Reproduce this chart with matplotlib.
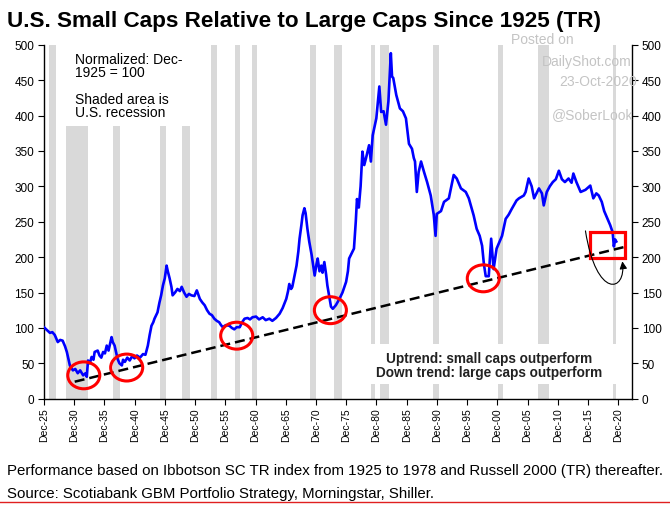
import matplotlib
matplotlib.use("Agg")
import matplotlib.pyplot as plt
from matplotlib.patches import Ellipse, Rectangle, FancyArrowPatch
from matplotlib.path import Path
from matplotlib.lines import Line2D

plt.rcParams['font.family'] = ['Liberation Sans', 'DejaVu Sans']

# small caps / large caps ratio (Dec-1925 = 100)
years = [
    1925.9, 1926.4, 1926.9, 1927.3, 1927.7, 1928.2, 1928.6, 1929.0, 1929.4, 1929.7,
    1930.2, 1930.7, 1931.1, 1931.5, 1931.9, 1932.4, 1932.8, 1933.0, 1933.2, 1933.5,
    1933.8, 1934.1, 1934.3, 1934.8, 1935.1, 1935.4, 1935.7, 1936.0, 1936.3, 1936.6,
    1937.1, 1937.3, 1937.6, 1938.1, 1938.4, 1938.8, 1939.0, 1939.3, 1939.7, 1940.1,
    1940.5, 1940.9, 1941.3, 1941.8, 1942.3, 1942.7, 1943.1, 1943.4, 1943.7, 1944.0,
    1944.2, 1944.7, 1945.0, 1945.3, 1945.6, 1945.9, 1946.2, 1946.4, 1946.7, 1947.0,
    1947.2, 1947.6, 1948.0, 1948.4, 1948.7, 1949.1, 1949.5, 1949.9, 1950.3, 1950.8,
    1951.2, 1951.5, 1951.7, 1952.1, 1952.5, 1952.9, 1953.3, 1953.7, 1954.1, 1954.5,
    1954.9, 1955.2, 1955.5, 1956.0, 1956.6, 1957.0, 1957.4, 1957.8, 1958.3, 1958.7,
    1959.1, 1959.6, 1960.0, 1960.4, 1961.0, 1961.5, 1962.1, 1962.6, 1963.2, 1963.7,
    1964.3, 1964.9, 1965.4, 1966.0, 1966.3, 1966.5, 1966.8, 1967.0, 1967.4, 1967.7,
    1968.0, 1968.2, 1968.5, 1968.7, 1969.0, 1969.2, 1969.5, 1969.8, 1970.2, 1970.5,
    1970.7, 1971.0, 1971.2, 1971.5, 1971.8, 1972.0, 1972.3, 1972.6, 1972.8, 1973.1,
    1973.4, 1973.7, 1974.2, 1974.8, 1975.3, 1975.9, 1976.2, 1976.4, 1976.8, 1977.2,
    1977.5, 1977.7, 1978.0, 1978.3, 1978.6, 1978.9, 1979.2, 1979.7, 1980.0, 1980.3,
    1980.9, 1981.4, 1981.7, 1982.1, 1982.5, 1982.9, 1983.3, 1983.5, 1983.7, 1984.2,
    1984.8, 1985.3, 1985.8, 1986.3, 1986.8, 1987.1, 1987.3, 1987.6, 1987.9, 1988.3,
    1988.8, 1989.3, 1989.9, 1990.4, 1990.7, 1990.9, 1991.6, 1992.1, 1992.9, 1993.7,
    1994.2, 1994.9, 1995.7, 1996.2, 1997.0, 1997.5, 1998.0, 1998.4, 1998.7, 1999.0,
    1999.5, 1999.9, 2000.3, 2000.8, 2001.7, 2002.3, 2002.8, 2003.3, 2004.1, 2004.5,
    2005.3, 2005.6, 2006.1, 2006.6, 2007.0, 2007.8, 2008.3, 2008.6, 2009.1, 2009.6,
    2010.1, 2010.6, 2011.1, 2011.6, 2012.1, 2012.7, 2013.2, 2013.5, 2014.0, 2014.7,
    2015.5, 2016.3, 2016.8, 2017.3, 2017.7, 2018.2, 2018.6, 2018.9, 2019.6, 2020.0,
    2020.2, 2020.4, 2020.6,
]
ratio = [
    101, 97, 93, 94, 90, 80, 83, 82, 74, 66,
    47, 40, 42, 36, 40, 33, 36, 31, 54, 50,
    59, 55, 66, 68, 61, 58, 66, 64, 75, 68,
    87, 80, 75, 56, 50, 47, 55, 52, 58, 54,
    60, 57, 61, 58, 63, 62, 75, 90, 103, 108,
    113, 122, 135, 146, 160, 170, 188, 180, 170, 158,
    146, 150, 155, 152, 158, 150, 144, 148, 146, 145,
    153, 146, 141, 136, 132, 125, 120, 118, 113, 110,
    108, 104, 101, 104, 103, 100, 98, 101, 101, 108,
    113, 114, 112, 115, 116, 112, 115, 111, 113, 110,
    114, 120, 128, 141, 152, 162, 155, 158, 175, 188,
    208, 226, 245, 259, 269, 262, 240, 222, 203, 185,
    174, 190, 198, 180, 188, 178, 193, 175, 160, 145,
    130, 127, 132, 141, 150, 165, 180, 198, 205, 212,
    250, 282, 270, 300, 349, 330, 340, 358, 335, 372,
    396, 441, 405, 406, 387, 420, 488, 455, 453, 429,
    410, 406, 396, 360, 353, 340, 335, 292, 320, 335,
    320, 306, 287, 260, 230, 261, 265, 278, 283, 316,
    311, 297, 292, 283, 259, 240, 230, 216, 190, 173,
    173, 226, 183, 212, 230, 254, 260, 268, 280, 283,
    287, 292, 311, 300, 283, 297, 290, 273, 292, 300,
    306, 310, 322, 310, 306, 311, 305, 318, 306, 292,
    295, 301, 283, 290, 287, 278, 265, 259, 245, 235,
    215, 225, 222,
]

# US recessions (shaded)
rec_start = [1926.75, 1929.6, 1937.35, 1945.15, 1948.75, 1953.5, 1957.6, 1960.25,
             1969.95, 1973.85, 1979.95, 1981.45, 1990.35, 2001.05, 2007.7, 2020.0]
rec_end = [1927.9, 1933.25, 1938.5, 1946.1, 1950.1, 1954.6, 1958.4, 1961.2,
           1970.95, 1975.2, 1980.7, 1983.0, 1991.3, 2001.85, 2009.5, 2020.6]

# long-term uptrend and the lows it touches
trend_x = [1931.0, 2021.8]
trend_y = [24, 214]
low_x = [1932.5, 1939.6, 1957.8, 1973.3, 1998.6]
low_y = [33, 44, 89, 125, 170]

tick_years = list(range(1925, 2021, 5))
tick_labels = ['Dec-%02d' % (y % 100) for y in tick_years]

fig = plt.figure(figsize=(6.7, 5.06), dpi=100)
ax = fig.add_axes([44 / 670, 106.3 / 506, 588 / 670, 354 / 506])

for s, e in zip(rec_start, rec_end):
    ax.axvspan(s, e, color='#d9d9d9', lw=0, zorder=1)

# white boxes behind the notes hide the shading there
ax.add_patch(Rectangle((1928.5, 385), 24.2, 120, color='white', lw=0, zorder=2))
ax.add_patch(Rectangle((1976.3, 21), 45.8, 56, color='white', lw=0, zorder=2))

ax.plot(years, ratio, color='#0000ff', lw=1.9, zorder=4)
ax.plot(trend_x, trend_y, color='black', lw=1.8, ls=(0, (4, 2)), zorder=5)

for cx, cy in zip(low_x, low_y):
    ax.add_patch(Ellipse((cx, cy), 5.3, 38, fill=False, ec='#ff0000', lw=2.2, zorder=6))

ax.add_patch(Rectangle((2016.3, 199), 5.7, 37, fill=False, ec='#ff0000', lw=2.3, zorder=6))
curve = Path([(2015.5, 237), (2017.3, 140), (2022.3, 150), (2021.6, 194)],
             [Path.MOVETO, Path.CURVE4, Path.CURVE4, Path.CURVE4])
ax.add_patch(FancyArrowPatch(path=curve, arrowstyle='-|>', mutation_scale=11,
                             color='black', lw=0.8, zorder=7))

ax.text(1931.0, 471, 'Normalized: Dec-\n1925 = 100', fontsize=10, va='center',
        linespacing=0.95, zorder=8)
ax.text(1931.0, 414, 'Shaded area is\nU.S. recession', fontsize=10, va='center',
        linespacing=0.95, zorder=8)
ax.text(1999.6, 48, 'Uptrend: small caps outperform\nDown trend: large caps outperform',
        fontsize=9.8, fontweight='bold', ha='center', va='center', linespacing=1.0,
        color='#222222', zorder=8)

ax.set_xlim(1925.92, 2023.2)
ax.set_ylim(0, 500)
ax.set_xticks([y + 0.92 for y in tick_years])
ax.set_xticklabels(tick_labels, rotation=90, fontsize=7.5)
ax.set_yticks(range(0, 501, 50))
ax.tick_params(axis='y', which='both', left=True, right=True, labelleft=True,
               labelright=True, direction='out', length=4, labelsize=8.5, pad=3)
ax.tick_params(axis='x', direction='out', length=4, pad=2)
ax.spines['top'].set_visible(False)
for sp in ['left', 'right', 'bottom']:
    ax.spines[sp].set_linewidth(1.0)

fig.text(7 / 670, 1 - 21 / 506, 'U.S. Small Caps Relative to Large Caps Since 1925 (TR)',
         fontsize=16.2, fontweight='bold', va='center')

wm = '#c4c4c4'
fig.text(542 / 670, 1 - 40 / 506, 'Posted on', color=wm, fontsize=10, ha='center', va='center')
fig.text(587 / 670, 1 - 62 / 506, 'DailyShot.com', color=wm, fontsize=10, ha='center', va='center')
fig.text(598 / 670, 1 - 82 / 506, '23-Oct-2020', color=wm, fontsize=10, ha='center', va='center')
fig.text(593 / 670, 1 - 115 / 506, '@SoberLook', color=wm, fontsize=10, ha='center', va='center')

fig.text(7 / 670, 1 - 471 / 506,
         'Performance based on Ibbotson SC TR index from 1925 to 1978 and Russell 2000 (TR) thereafter.',
         fontsize=10.8, va='center')
fig.text(7 / 670, 1 - 494 / 506, 'Source: Scotiabank GBM Portfolio Strategy, Morningstar, Shiller.',
         fontsize=10.8, va='center')
fig.add_artist(Line2D([0, 1], [3 / 506, 3 / 506], transform=fig.transFigure,
                      color='#e02020', lw=1.0))

fig.savefig('out.png', dpi=100)
